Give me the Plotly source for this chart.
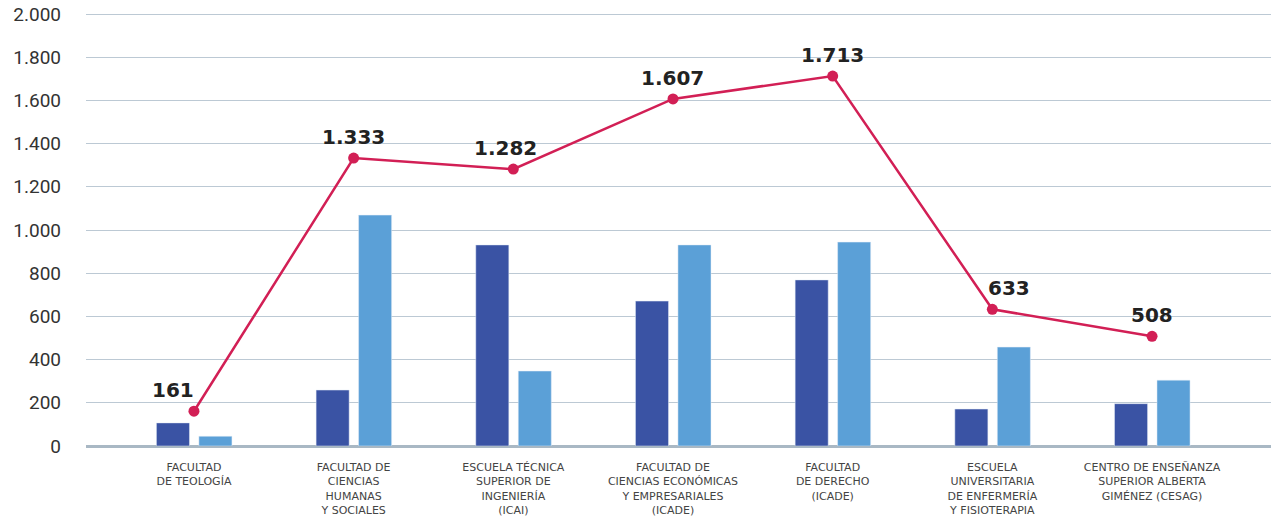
import plotly.graph_objects as go

categories = [
    "FACULTAD<br>DE TEOLOGÍA",
    "FACULTAD DE<br>CIENCIAS<br>HUMANAS<br>Y SOCIALES",
    "ESCUELA TÉCNICA<br>SUPERIOR DE<br>INGENIERÍA<br>(ICAI)",
    "FACULTAD DE<br>CIENCIAS ECONÓMICAS<br>Y EMPRESARIALES<br>(ICADE)",
    "FACULTAD<br>DE DERECHO<br>(ICADE)",
    "ESCUELA<br>UNIVERSITARIA<br>DE ENFERMERÍA<br>Y FISIOTERAPIA",
    "CENTRO DE ENSEÑANZA<br>SUPERIOR ALBERTA<br>GIMÉNEZ (CESAG)",
]
series_dark = [107, 259, 931, 671, 769, 171, 196]
series_light = [45, 1069, 347, 931, 944, 458, 305]
series_total = [161, 1333, 1282, 1607, 1713, 633, 508]
y_ticks = [0, 200, 400, 600, 800, 1000, 1200, 1400, 1600, 1800, 2000]

label_xshift = [-21, 0, -8, 0, 0, 17, 0]

x_idx = list(range(len(categories)))

fig = go.Figure()
fig.add_trace(go.Bar(x=x_idx, y=series_dark, marker_color="#3A53A4",
                     width=0.207, offset=-0.235, showlegend=False))
fig.add_trace(go.Bar(x=x_idx, y=series_light, marker_color="#5BA0D7",
                     width=0.207, offset=0.031, showlegend=False))
fig.add_trace(go.Scatter(x=x_idx, y=series_total, mode="lines+markers",
                         line=dict(color="#D21F55", width=2.5),
                         marker=dict(color="#D21F55", size=11),
                         showlegend=False))

for i, v in enumerate(series_total):
    fig.add_annotation(x=i, y=v, text=f"{v:,}".replace(",", "."), showarrow=False,
                       yanchor="bottom", xanchor="center", yshift=7,
                       xshift=label_xshift[i],
                       font=dict(family="DejaVu Sans", size=20, color="#222222", weight="bold"))

fig.update_layout(
    width=1271, height=520,
    margin=dict(l=86, r=0, t=8, b=74, autoexpand=False),
    plot_bgcolor="white", paper_bgcolor="white",
    separators=",.",
    barmode="overlay",
)
fig.update_xaxes(
    range=[-0.676, 6.745],
    tickvals=x_idx, ticktext=categories,
    tickfont=dict(family="DejaVu Sans", size=11, color="#444444"),
    showgrid=False, showline=False, zeroline=False, ticks="",
    ticklabelstandoff=13, automargin=False,
)
fig.update_yaxes(
    range=[0, 2028],
    tickvals=y_ticks, ticktext=[f"{v:,}".replace(",", ".") for v in y_ticks],
    tickfont=dict(family="Roboto", size=19, color="#333333"),
    showgrid=True, gridcolor="#BCC9D4", gridwidth=1.2,
    zeroline=True, zerolinecolor="#A9B8C4", zerolinewidth=3,
    showline=False, ticks="",
    ticklabelstandoff=24, automargin=False, ticklabeloverflow="allow",
)

fig.write_html("out.html", config={"displayModeBar": False},
               post_script="document.body.style.margin='0';")
